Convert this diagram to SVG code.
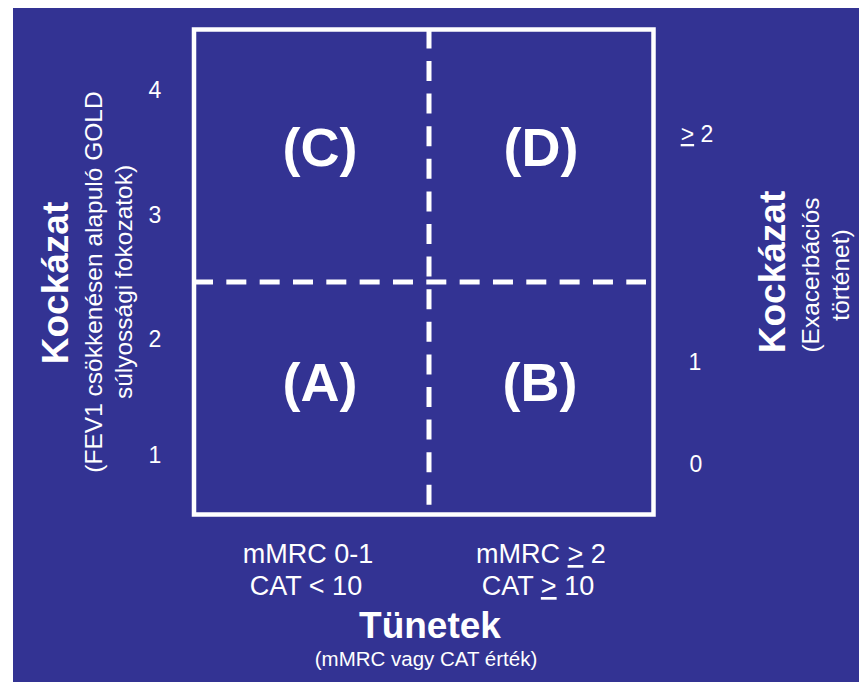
<svg xmlns="http://www.w3.org/2000/svg" width="859" height="682" viewBox="0 0 859 682">
  <style>
    text { fill: #ffffff; font-family: "Liberation Sans", Arial, sans-serif; }
    .quad { font-size: 54px; font-weight: bold; text-anchor: middle; }
    .tick { font-size: 23px; text-anchor: middle; }
    .title { font-size: 37px; font-weight: bold; text-anchor: middle; }
    .sub { font-size: 24.5px; text-anchor: middle; }
    .cat { font-size: 27px; text-anchor: middle; }
    .xtitle { font-size: 37px; font-weight: bold; text-anchor: middle; }
    .xsub { font-size: 20.5px; text-anchor: middle; }
    .frame { fill: none; stroke: #ffffff; stroke-width: 4.5; }
    .split { fill: none; stroke: #ffffff; stroke-width: 5; }
  </style>

  <!-- page and panel background -->
  <rect x="0" y="0" width="859" height="682" fill="#ffffff"/>
  <rect x="13" y="8" width="846" height="674" fill="#333393"/>

  <!-- risk / symptom grid -->
  <g id="grid">
    <rect class="frame" x="194" y="29.5" width="459.5" height="485"/>
  </g>
  <g id="connectors">
    <line class="split" x1="429" y1="28.4" x2="429" y2="506" stroke-dasharray="20 12.6"/>
    <line class="split" x1="193" y1="282" x2="646" y2="282" stroke-dasharray="20 13.33"/>
  </g>

  <!-- quadrant labels -->
  <g id="quad-c"><text class="quad" x="320" y="166">(C)</text></g>
  <g id="quad-d"><text class="quad" x="541" y="166">(D)</text></g>
  <g id="quad-a"><text class="quad" x="320" y="401">(A)</text></g>
  <g id="quad-b"><text class="quad" x="540" y="401">(B)</text></g>

  <!-- left axis: GOLD grades -->
  <g id="left-ticks">
    <text class="tick" x="155" y="98">4</text>
    <text class="tick" x="155" y="223">3</text>
    <text class="tick" x="155" y="347">2</text>
    <text class="tick" x="155" y="463">1</text>
  </g>
  <g id="left-title">
    <text class="title" transform="translate(68,283) rotate(-90)">Kockázat</text>
    <text class="sub" transform="translate(102,282) rotate(-90)">(FEV1 csökkenésen alapuló GOLD</text>
    <text class="sub" transform="translate(132,282) rotate(-90)">súlyossági fokozatok)</text>
  </g>

  <!-- right axis: exacerbation history -->
  <g id="right-ticks">
    <text class="tick" x="697" y="142"><tspan text-decoration="underline">&gt;</tspan> 2</text>
    <text class="tick" x="695" y="370">1</text>
    <text class="tick" x="696" y="472">0</text>
  </g>
  <g id="right-title">
    <text class="title" transform="translate(785,272) rotate(-90)">Kockázat</text>
    <text class="sub" transform="translate(819,275) rotate(-90)">(Exacerbációs</text>
    <text class="sub" transform="translate(849,275) rotate(-90)">történet)</text>
  </g>

  <!-- bottom axis: symptoms -->
  <g id="bottom-left">
    <text class="cat" x="308" y="563">mMRC 0-1</text>
    <text class="cat" x="306" y="595">CAT &lt; 10</text>
  </g>
  <g id="bottom-right">
    <text class="cat" x="541" y="563">mMRC <tspan text-decoration="underline">&gt;</tspan> 2</text>
    <text class="cat" x="538" y="595">CAT <tspan text-decoration="underline">&gt;</tspan> 10</text>
  </g>
  <g id="bottom-title">
    <text class="xtitle" x="430" y="638">Tünetek</text>
    <text class="xsub" x="426" y="666">(mMRC vagy CAT érték)</text>
  </g>
</svg>
